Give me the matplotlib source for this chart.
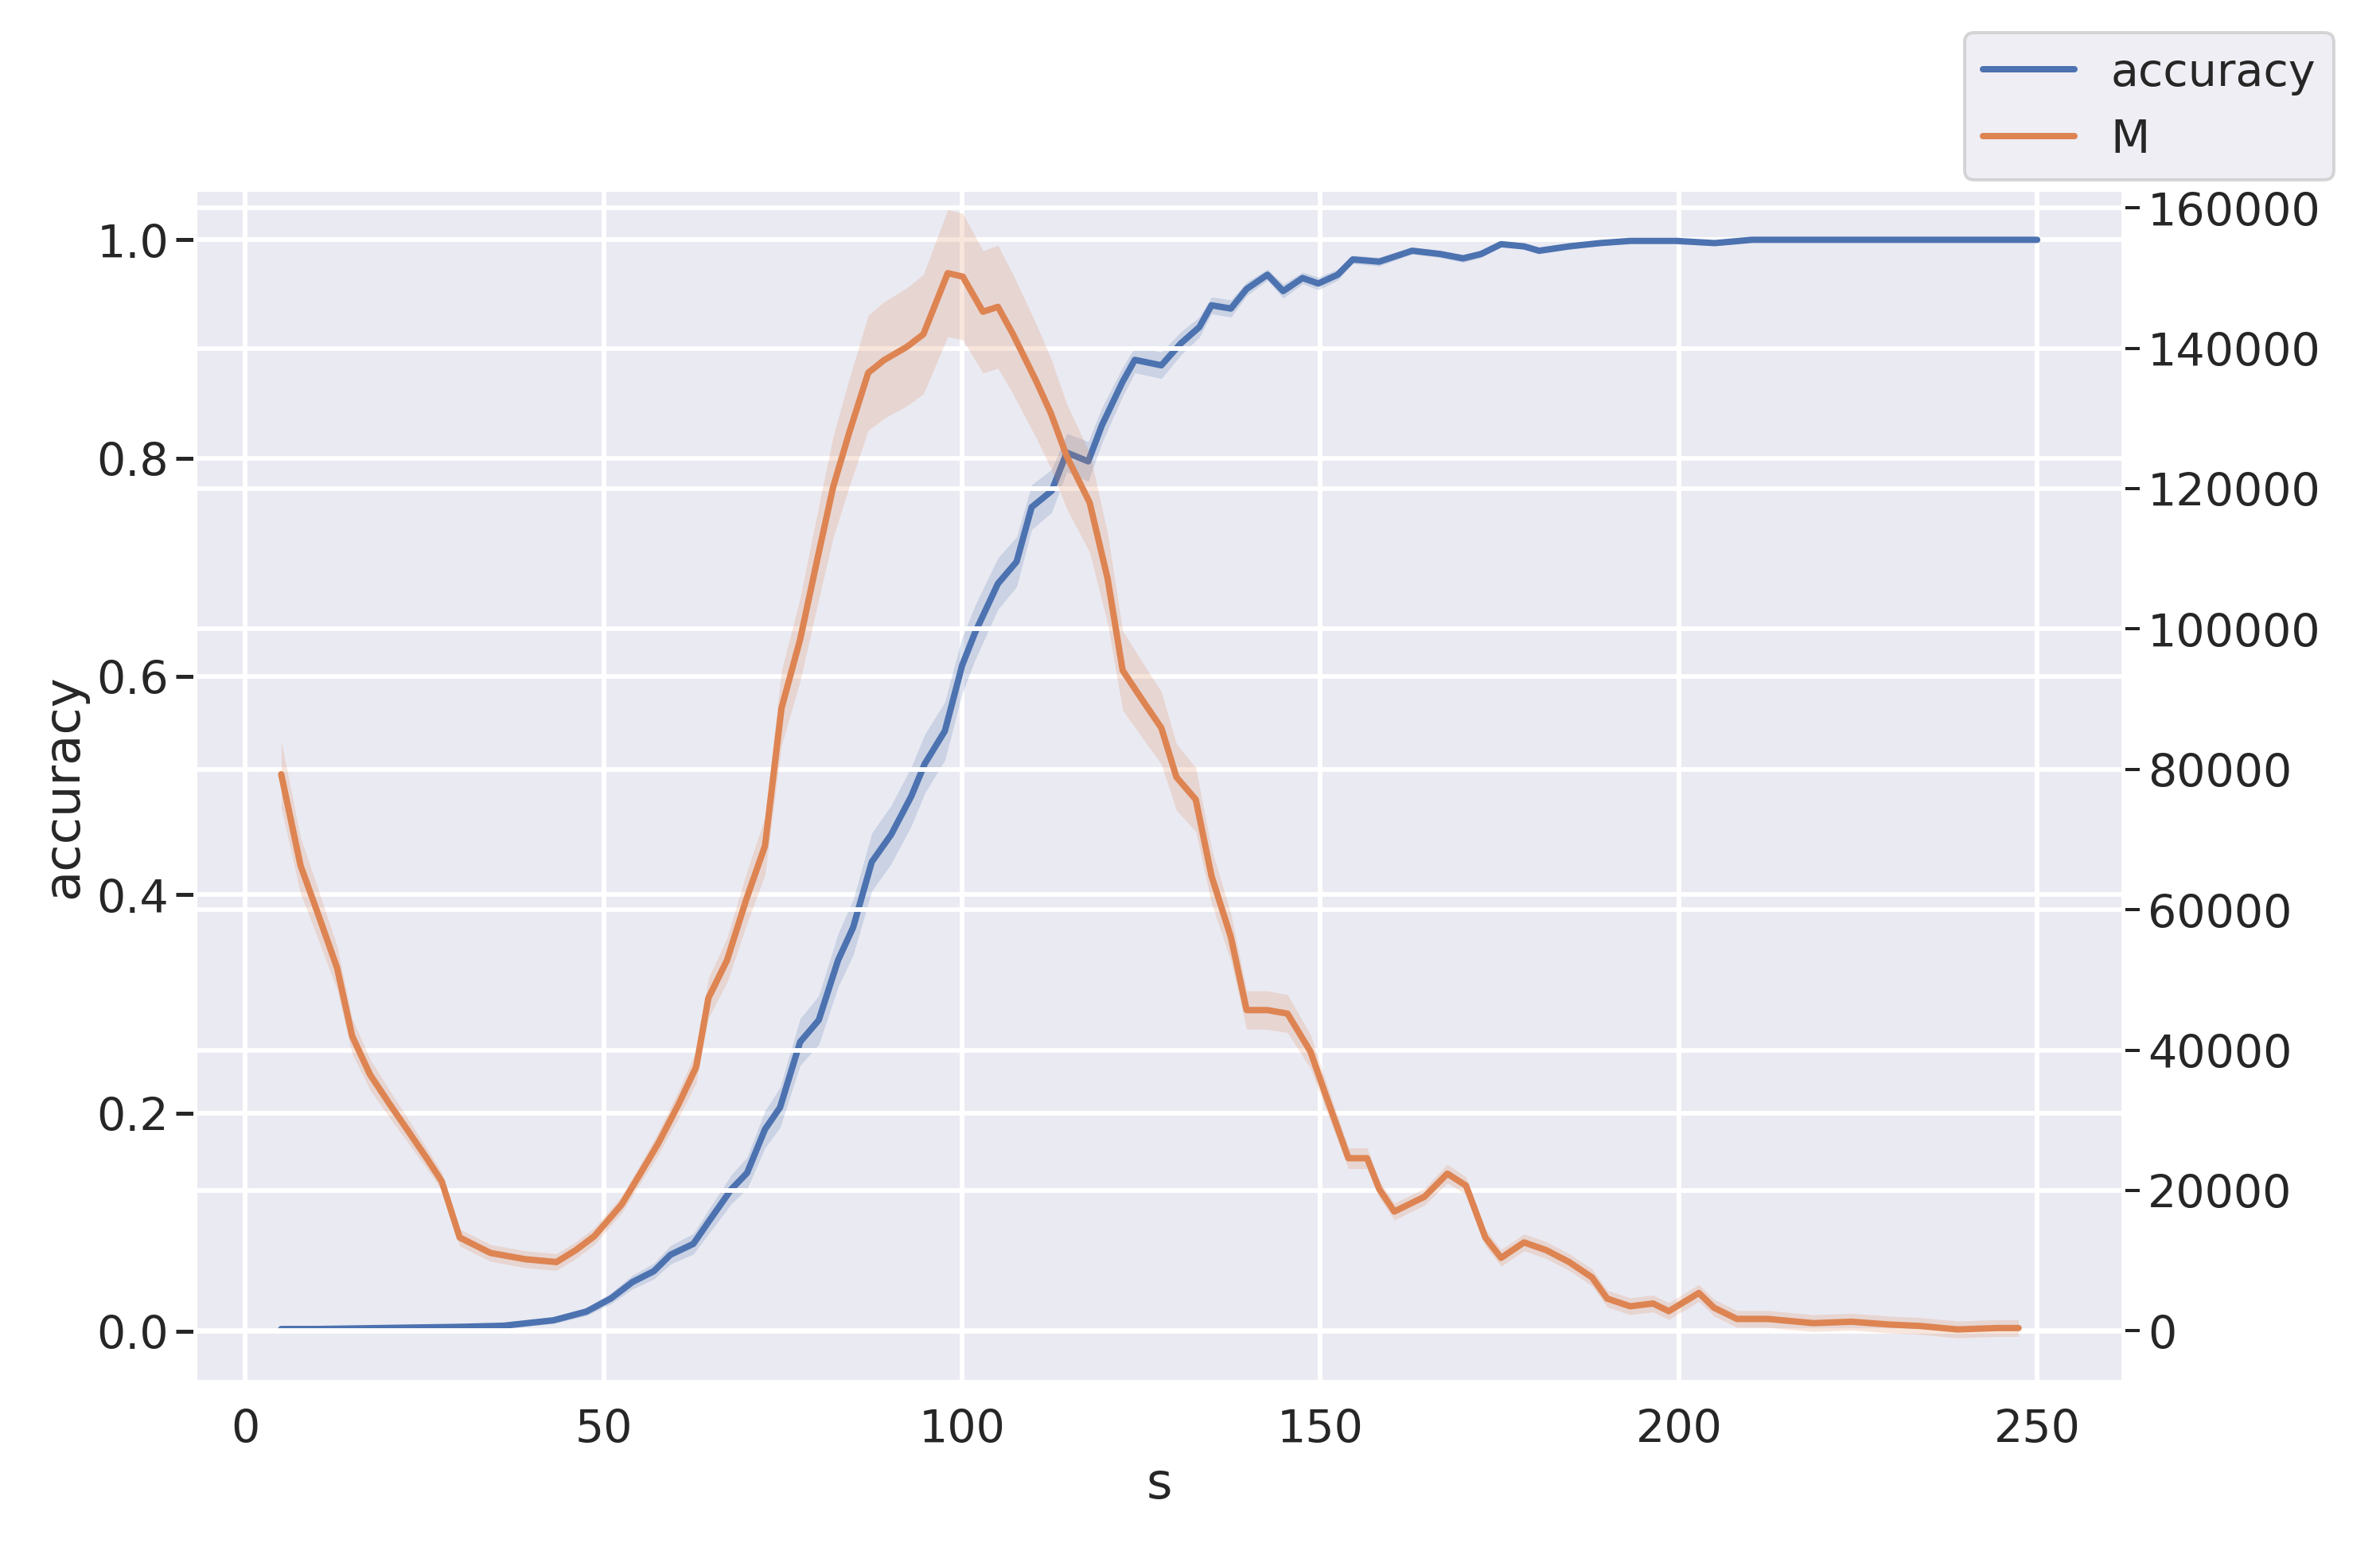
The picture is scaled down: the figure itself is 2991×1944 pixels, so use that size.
import numpy as np
import matplotlib
matplotlib.use("Agg")
import matplotlib.pyplot as plt
import seaborn as sns

sns.set_theme(style="darkgrid", context="talk", font_scale=1.3)
plt.rcParams['font.family'] = ['DejaVu Sans']
plt.rcParams['grid.linewidth'] = 2.2

# accuracy vs s
s_acc = [5, 10, 20, 30, 36, 43, 47.6, 51, 54, 57, 59.3, 62.5, 64.6, 67.8, 70, 72.5, 74.6, 77.4, 80,
         82.7, 84.8, 87.4, 90.1, 92.9, 94.8, 97.6, 100, 101.8, 105, 107.6, 109.7, 112.5, 114.6,
         117.6, 119.5, 122.4, 124.1, 127.8, 130.5, 133.1, 134.8, 137.5, 139.7, 142.6, 144.8, 147.5,
         149.7, 152.4, 154.5, 158.2, 162.8, 166.7, 169.9, 172.4, 175.2, 178.4, 180.5, 184.7, 189,
         193.2, 199.6, 205, 210.2, 220, 230, 240, 250]
accuracy = [0.002, 0.002, 0.003, 0.004, 0.005, 0.01, 0.018, 0.03, 0.045, 0.055, 0.07, 0.08, 0.1,
            0.13, 0.145, 0.185, 0.205, 0.265, 0.285, 0.34, 0.37, 0.43, 0.455, 0.49, 0.52, 0.55,
            0.61, 0.64, 0.685, 0.705, 0.755, 0.77, 0.805, 0.797, 0.83, 0.87, 0.89, 0.885, 0.905,
            0.92, 0.94, 0.937, 0.955, 0.968, 0.953, 0.965, 0.96, 0.968, 0.982, 0.98, 0.99, 0.987,
            0.983, 0.987, 0.996, 0.994, 0.99, 0.994, 0.997, 0.999, 0.999, 0.997, 1.0, 1.0, 1.0,
            1.0, 1.0]

# M vs s
s_m = [5, 7.7, 10, 12.8, 14.9, 17.4, 20.2, 22.7, 25.3, 27.4, 29.9, 34.2, 39.1, 43.4, 46.1, 48.7,
       52.5, 55.1, 57.6, 60.4, 62.9, 64.6, 67.2, 69.9, 72.5, 74.8, 77.4, 79.9, 82.0, 84.2, 86.9,
       89.1, 92.3, 94.6, 98, 100.1, 102.9, 105, 107.1, 110.3, 112.4, 114.6, 117.8, 120.3, 122.4,
       125.2, 127.8, 129.9, 132.6, 134.8, 137.5, 139.7, 142.6, 145.4, 148.6, 150.7, 153.9, 156.5,
       158.2, 160.3, 164.5, 167.7, 170.3, 173, 175.2, 178.4, 181.5, 184.7, 187.9, 190, 193.2,
       196.4, 198.6, 202.8, 204.9, 208.1, 212.4, 214.5, 218.8, 224.1, 229.4, 233.6, 238.9,
       244.3, 247.4]
M = [79.3, 66.3, 59.8, 51.7, 42.0, 36.5, 32.2, 28.5, 24.6, 21.3, 13.3, 11.1, 10.2, 9.8, 11.5,
     13.5, 18, 22.4, 26.7, 32.2, 37.6, 47.4, 52.8, 61.5, 69.1, 88.7, 98.5, 110.4, 120.2, 127.8,
     136.5, 138.3, 140.2, 142, 150.7, 150.2, 145.2, 145.9, 142, 135.4, 130.7, 124.6, 118, 107.2,
     94.1, 89.8, 85.9, 78.9, 75.7, 64.8, 56.1, 45.7, 45.7, 45.2, 39.8, 33.7, 24.6, 24.6, 20.2,
     17, 19.1, 22.4, 20.7, 13.3, 10.4, 12.6, 11.5, 9.8, 7.6, 4.6, 3.5, 3.9, 2.8, 5.4, 3.3, 1.7,
     1.7, 1.5, 1.1, 1.3, 0.9, 0.7, 0.2, 0.4, 0.4]
M = np.array(M) * 1000

blue, orange = sns.color_palette()[0], sns.color_palette()[1]

fig = plt.figure(figsize=(15.58, 10.13), dpi=192)
ax = fig.add_axes([0.082, 0.107, 0.81, 0.77])
ax.plot(s_acc, accuracy, color=blue, lw=3, label="accuracy")
acc = np.array(accuracy)
band = 0.002 + 0.1 * acc * (1 - acc)
ax.fill_between(s_acc, acc - band, acc + band, color=blue, alpha=0.2, lw=0)
ax.set_xlabel("s")
ax.set_ylabel("accuracy")
ax.set_ylim(-0.046, 1.046)
ax.set_xlim(-7, 262)
ax.set_xticks([0, 50, 100, 150, 200, 250])

ax2 = ax.twinx()
ax2.plot(s_m, M, color=orange, lw=3, label="M")
mband = np.maximum(1200, M * 0.06)
ax2.fill_between(s_m, M - mband, M + mband, color=orange, alpha=0.2, lw=0)
ax2.set_ylim(-7200, 162600)
ax2.set_yticks(np.arange(0, 160001, 20000))
ax2.set_ylabel("M", labelpad=30)
ax2.tick_params(axis='y', length=8, width=1.5, color='#222222')

h1, l1 = ax.get_legend_handles_labels()
h2, l2 = ax2.get_legend_handles_labels()
fig.legend(h1 + h2, l1 + l2, loc="upper right", bbox_to_anchor=(0.99, 0.993))

fig.savefig("out.png", dpi=192)
